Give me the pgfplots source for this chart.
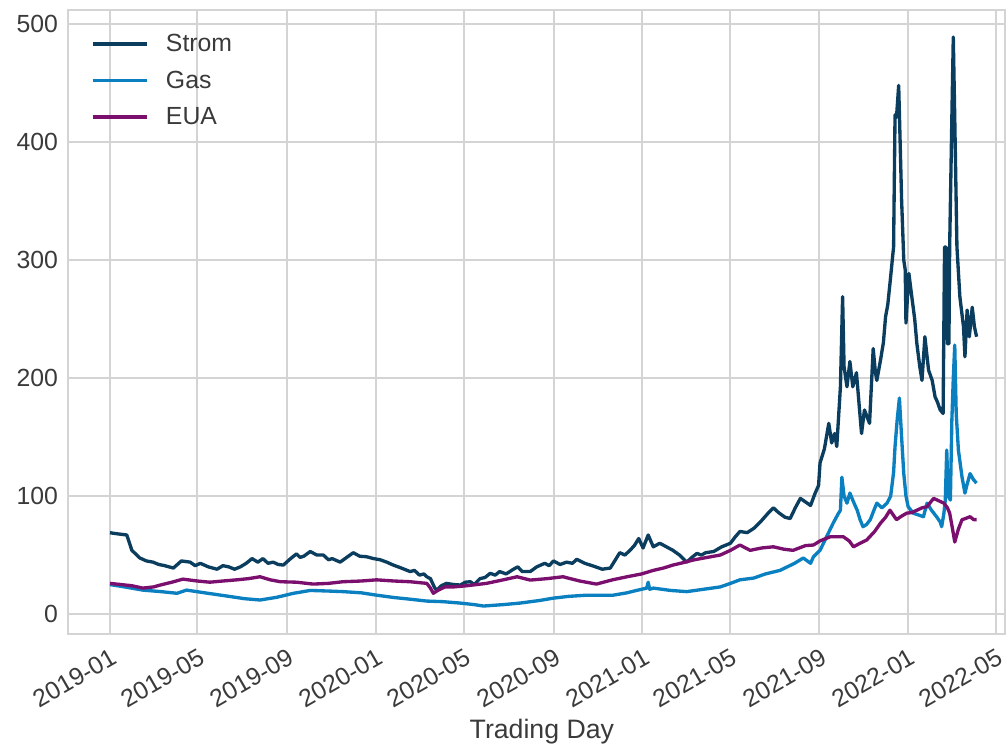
\documentclass[border=0pt]{standalone}
\usepackage{pgfplots}
\pgfplotsset{compat=1.18}
\usepackage{fontspec}
\setmainfont{Liberation Sans}
\definecolor{strom}{HTML}{0B3D5E}
\definecolor{gas}{HTML}{0A80C0}
\definecolor{eua}{HTML}{7B0F6E}
\definecolor{gridc}{HTML}{D4D4D4}
\definecolor{labelc}{HTML}{3A3A3A}

\pgfplotstableread{
day val
0 68.9
10 68
23 67
30 54
41 47.5
50 45
59 44
67 42
75 41
87 39
98 45
110 44
117 41
124 43
135 40
147 38
155 41
163 40
171 38
179 40
187 43
195 47
203 44
210 47
217 43
224 44
231 42
238 41.5
248 47
256 51
261 48
266 49
275 53
284 50
293 50
300 46
305 47
316 44
325 48
334 52
343 49
352 48.6
362 47
371 46
380 44
389 41.5
400 39
412 36
418 37
425 33
431 34
435 31.6
440 30
446 22
449 20.3
455 24
462 26
472 25
481 24.6
488 27
495 27.4
500 25
508 30
515 31
522 34.5
529 33
535 36
544 34
554 38
560 40
566 36
577 36
586 40
597 43
603 41
609 45
618 42
627 44
635 43
641 46.4
652 43
664 40.6
676 38
687 39
694 46
700 52
707 50
714 54
720 58
726 64
729 60
732 56
739 67
746 57
755 60
764 57
773 54
782 50
792 44
799 48
806 51.4
812 50
818 52
829 53
840 57
852 60
858 65
865 70
875 69
884 72.6
893 78
903 85
911 90
918 86
927 82
934 81
941 90
948 98
955 95
962 92
968 102
973 109
975 128
981 140
987 161.6
991 145
995 153
998 142
1003 192.6
1006 269
1008 209.6
1012 192.6
1016 214
1020 192.6
1025 204.5
1029 175
1032 153
1036 173
1043 161.6
1048 225
1051 205
1053 198
1058 215
1062 230
1065 252
1068 262
1071 280
1076 311
1078 423
1080 421
1083 448
1085 400
1087 351
1090 300
1092 291.5
1093 246.6
1097 288.7
1101 269
1105 250
1108 229
1112 209.6
1115 198
1119 235
1124 206.8
1129 198
1133 184
1136 180
1140 173
1144 170
1146 311
1148 311
1150 229
1152 229
1153 311
1156 420
1158 489
1160 420
1163 311
1167 269
1172 243.5
1174 218
1177 257.6
1180 235
1184 260
1187 243.5
1190 235
}\strom

\pgfplotstableread{
day val
0 25
20 23
45 20.3
70 19
92 17.6
105 20.3
130 18
160 15.3
185 13
206 11.9
229 14.2
252 17.6
275 20
300 19.5
320 19
345 18
366 16
390 14
412 12.6
435 11
457 10.5
481 9.3
500 8
513 6.8
540 8
563 9.3
590 11.5
609 13.5
630 15
655 16
675 16
691 16
710 18
723 20
737 22
739 27
741 21
746 22
770 20
792 19
815 21
838 23
852 26
865 29
884 30.5
900 34
920 37
940 43
952 47.5
962 43
966 48.6
975 54
984 65.5
993 77
1000 85
1003 88
1005 116
1008 100
1012 94
1016 102.5
1021 95
1026 88
1030 80
1034 74
1039 76
1044 80
1049 88
1053 94
1060 90
1067 94
1072 100
1076 120
1078 142
1081 165
1084 183
1087 150
1090 119
1093 100
1096 91
1103 85.5
1110 84
1117 82.5
1122 94
1128 88
1135 82.5
1140 78
1142 74
1145 85
1147 96.6
1149 139
1151 100
1154 96.6
1156 164
1158 200
1160 228
1162 170
1165 139
1170 116
1174 102.5
1177 110
1181 119
1186 113.6
1190 111
}\gas

\pgfplotstableread{
day val
0 26
15 25
30 24
45 22
60 23
69 24.6
85 27
100 29.6
120 28
137 27
155 28
174 29
190 30
206 31.6
220 29
234 27.4
256 27
279 25.4
300 26
320 27.4
345 28
366 29
390 28
412 27.4
435 26
440 22
444 17.6
450 20
460 23
472 23
490 24
517 26
540 29
559 31.6
577 28.8
600 30
622 31.6
645 28
668 25.4
690 29
710 31.6
730 34
746 37
760 39
773 41.5
790 44
801 45.8
820 48
838 50
852 54
865 58.5
879 54
895 56
911 57
925 55
938 54
955 58
966 58.5
975 62
989 65.5
1007 65.5
1015 62
1021 57
1030 60
1039 62.7
1050 70
1058 77
1065 82
1071 88
1080 80
1087 83
1094 85.5
1101 86
1108 88
1115 90
1122 91
1127 95
1131 98
1138 96
1145 94
1150 90
1153 85.5
1157 72
1160 61
1165 72
1170 80
1175 81
1181 82.5
1186 80
1190 80
}\eua

\begin{document}
\begin{tikzpicture}
\begin{axis}[
  width=702.75pt, height=468pt, scale only axis,
  xmin=-57.7, xmax=1229, ymin=-16.9, ymax=511.9,
  xtick={0,120,243,365,486,609,731,851,974,1096,1216},
  xticklabels={2019-01,2019-05,2019-09,2020-01,2020-05,2020-09,2021-01,2021-05,2021-09,2022-01,2022-05},
  ytick={0,100,200,300,400,500},
  grid=major,
  major grid style={gridc, line width=1.5pt},
  axis line style={gridc, line width=1.5pt},
  major tick length=0pt,
  /pgf/number format/assume math mode=true,
  tick label style={font=\fontsize{18.6}{22}\selectfont, text=labelc},
  x tick label style={rotate=30, anchor=north east, inner sep=2pt, yshift=-7pt, xshift=-3pt},
  y tick label style={xshift=-4pt},
  xlabel={Trading Day},
  xlabel style={font=\fontsize{20}{24}\selectfont, text=labelc, at={(axis description cs:0.5,0)}, anchor=center, yshift=-73pt, xshift=4pt},
  legend style={draw=none, fill=none, at={(axis description cs:0,1)}, anchor=north west, xshift=14pt, yshift=-14pt,
    font=\fontsize{18.6}{22}\selectfont, text=labelc, row sep=9pt, cells={anchor=west}},
  legend image code/.code={\draw[#1, line width=2.4pt] (0pt,0pt) -- (40.5pt,0pt); \path[draw=none, fill=none] (53pt,0pt) circle (0.1pt);},
  every axis plot/.append style={line width=2.5pt, line join=round},
]
\addplot[strom, no markers] table[x=day, y=val] {\strom};
\addlegendentry{Strom}
\addplot[gas, no markers] table[x=day, y=val] {\gas};
\addlegendentry{Gas}
\addplot[eua, no markers] table[x=day, y=val] {\eua};
\addlegendentry{EUA}
\end{axis}
\pgfresetboundingbox
\path (current axis.south west) ++(-51pt,-84pt) rectangle ++(756pt,559.5pt);
\end{tikzpicture}
\end{document}
